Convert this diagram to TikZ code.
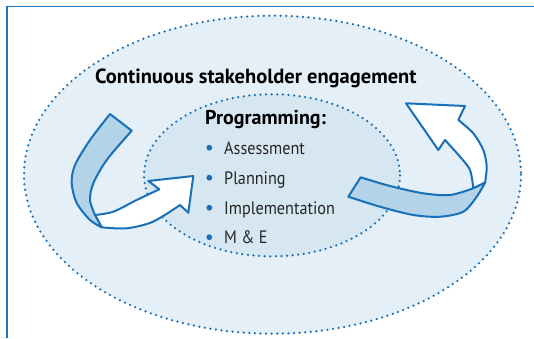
\documentclass[tikz,border=0pt]{standalone}
\usepackage{fontspec}
\setmainfont{PT Sans}
\newfontfamily\itemfont[FakeStretch=0.9]{PT Sans}
\definecolor{frameblue}{HTML}{1B75BB}
\definecolor{dotblue}{HTML}{1A6FB6}
\definecolor{outerfill}{HTML}{E4EFF8}
\definecolor{innerfill}{HTML}{D6E7F2}
\definecolor{bandfill}{HTML}{B2D3E8}
\definecolor{arrowblue}{HTML}{1770B8}
\begin{document}
\begin{tikzpicture}[x=1pt,y=-1pt,
  dotline/.style={draw=dotblue, line width=2.5pt, line cap=round, dash pattern=on 0pt off 5.6pt},
  ribbon/.style={draw=arrowblue, line width=2pt, line join=round},
  bullet/.style={circle, fill=dotblue, inner sep=0pt, minimum size=5.8pt},
  item/.style={anchor=base west, inner sep=0pt, font=\itemfont\fontsize{18}{20}\selectfont, text=black!85},
  head/.style={anchor=base west, inner sep=0pt, font=\bfseries}]
\useasboundingbox (0,0) rectangle (534,338);
% frame
\draw[frameblue, line width=1.3pt] (7,338) -- (7,6.5) -- (534,6.5);
% ellipses
\fill[outerfill] (272.5,174.7) ellipse [x radius=248.5, y radius=159];
\fill[innerfill] (272,175.3) ellipse [x radius=128, y radius=81];
\path[dotline] (272.5,174.7) ellipse [x radius=248.5, y radius=159];
\path[dotline] (272,175.3) ellipse [x radius=128, y radius=81];
% left ribbon arrow
\filldraw[ribbon, fill=white] (95,215)
  -- plot[smooth] coordinates {(95,215) (113.3,211.7) (136.7,200) (159.3,189.3)}
  -- (148.3,181) -- (193.3,176) -- (188.3,212.7) -- (180,205)
  -- plot[smooth] coordinates {(180,205) (153,221.7) (126.7,228.3) (101.7,227.3)}
  -- cycle;
\filldraw[ribbon, fill=bandfill] (131.7,130.7)
  -- plot[smooth] coordinates {(131.7,130.7) (106.7,160) (93.3,183.3) (90,200) (95,215)}
  -- (101.7,227.3)
  -- plot[smooth] coordinates {(101.7,227.3) (90,220) (76.7,203) (71.7,183) (75,165) (90,140) (110,114)}
  -- cycle;
% right ribbon arrow
\filldraw[ribbon, fill=white] (473.3,188.3)
  -- plot[smooth] coordinates {(473.3,188.3) (470,170) (460,156.7) (445,140)}
  -- (438.3,150) -- (406,103.3) -- (465,106) -- (458.3,120)
  -- plot[smooth] coordinates {(458.3,120) (473.3,133.3) (483.3,150) (486.7,166.7) (485,182.7)}
  -- cycle;
\filldraw[ribbon, fill=bandfill] (360.7,177.3)
  -- plot[smooth] coordinates {(360.7,177.3) (390,186) (423.3,193.3) (450,195) (473.3,188.3)}
  -- (485,182.7)
  -- plot[smooth] coordinates {(485,182.7) (476.7,196.7) (463.3,211.7) (440,216.7) (413.3,215) (380,206.7) (348.3,196.7)}
  -- cycle;
% texts
\node[head, font=\bfseries\fontsize{20.5}{22}\selectfont] (title) at (95,83) {Continuous stakeholder engagement};
\node[head, font=\bfseries\fontsize{20}{22}\selectfont] (prog) at (205,124) {Programming:};
\node[bullet] (b1) at (209.3,147.7) {};
\node[bullet] (b2) at (209.3,177.7) {};
\node[bullet] (b3) at (209.3,207.7) {};
\node[bullet] (b4) at (209.3,237.2) {};
\node[item] (i1) at (224,154) {Assessment};
\node[item] (i2) at (224,184) {Planning};
\node[item] (i3) at (224,214) {Implementation};
\node[item] (i4) at (224,243.5) {M \& E};
\end{tikzpicture}
\end{document}
